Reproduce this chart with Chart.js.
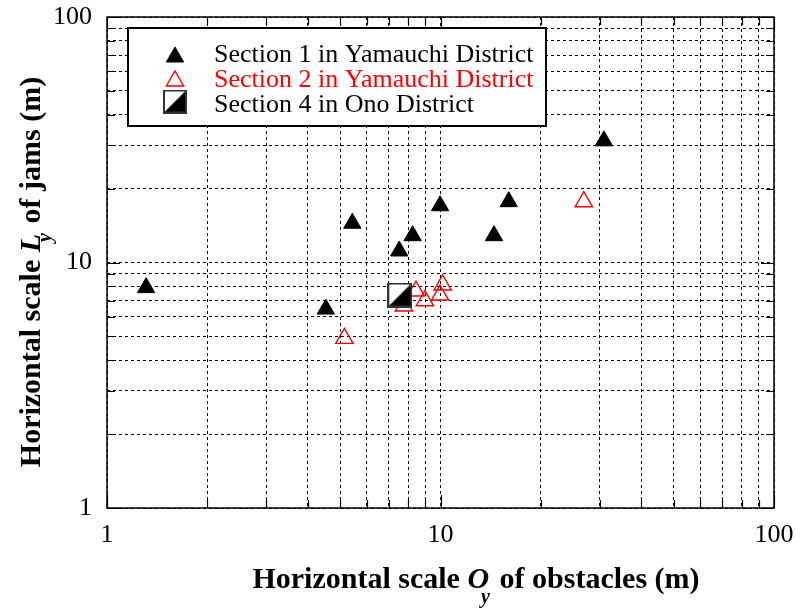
<!DOCTYPE html>
<html>
<head>
<meta charset="utf-8">
<script src="https://cdn.jsdelivr.net/npm/chart.js@4.4.1/dist/chart.umd.min.js"></script>
<style>
  html, body { margin: 0; padding: 0; background: #fff; }
  #wrap { width: 800px; height: 612px; }
</style>
</head>
<body>
<div id="wrap"><canvas id="c" width="800" height="612"></canvas></div>
<script>
// ---- data ----
const seriesLabels = ['Section 1 in Yamauchi District', 'Section 2 in Yamauchi District', 'Section 4 in Ono District'];
const sec1X = [1.31, 4.53, 5.44, 7.52, 8.25, 9.97, 14.47, 16.02, 30.9];
const sec1Y = [7.90, 6.46, 14.45, 11.14, 12.86, 17.03, 12.86, 17.69, 31.3];
const sec2X = [5.15, 7.77, 8.44, 8.98, 9.97, 10.15, 26.9];
const sec2Y = [4.91, 6.65, 7.65, 6.99, 7.37, 8.10, 17.69];
const sec4X = [7.55];
const sec4Y = [7.37];
const majorTicks = [1, 10, 100];
const tickLabels = ['1', '10', '100'];
const xTitleParts = ['Horizontal scale ', 'O', 'y', ' of obstacles (m)'];
const yTitleParts = ['Horizontal scale ', 'L', 'y', ' of jams (m)'];

const SERIF = '"Liberation Serif", "Times New Roman", serif';
const RED = '#ff0000';

function toPoints(xs, ys) { return xs.map((x, i) => ({ x: x, y: ys[i] })); }

function makeHalfSquare(size) {
  const c = document.createElement('canvas');
  c.width = size; c.height = size;
  const g = c.getContext('2d');
  g.fillStyle = '#fff';
  g.fillRect(0, 0, size, size);
  g.fillStyle = '#000';
  g.beginPath();
  g.moveTo(size, 0); g.lineTo(size, size); g.lineTo(0, size); g.closePath();
  g.fill();
  g.strokeStyle = '#333';
  g.lineWidth = 2;
  g.strokeRect(1, 1, size - 2, size - 2);
  return c;
}
const halfSquare = makeHalfSquare(25);
const halfSquareLegend = makeHalfSquare(24);

// all log tick positions 1..9 per decade between the major ticks
function logTicks() {
  const out = [];
  for (let d = 0; d < majorTicks.length - 1; d++) {
    for (let m = 1; m < 10; m++) out.push(majorTicks[d] * m);
  }
  out.push(majorTicks[majorTicks.length - 1]);
  return out;
}
function tickCb(v) {
  const i = majorTicks.indexOf(v);
  return i >= 0 ? tickLabels[i] : '';
}

const framePlugin = {
  id: 'frame',
  beforeDatasetsDraw(chart) {
    const { ctx, chartArea: a, scales } = chart;
    ctx.save();
    ctx.strokeStyle = '#000';
    ctx.lineWidth = 1.2;
    ctx.setLineDash([]);
    scales.x.ticks.forEach(t => {
      const px = Math.round(scales.x.getPixelForValue(t.value)) + 0.5;
      const len = majorTicks.includes(t.value) ? 13 : 8;
      ctx.beginPath();
      ctx.moveTo(px, a.bottom); ctx.lineTo(px, a.bottom - len);
      ctx.moveTo(px, a.top); ctx.lineTo(px, a.top + len);
      ctx.stroke();
    });
    scales.y.ticks.forEach(t => {
      const py = Math.round(scales.y.getPixelForValue(t.value)) + 0.5;
      const len = majorTicks.includes(t.value) ? 13 : 8;
      ctx.beginPath();
      ctx.moveTo(a.left, py); ctx.lineTo(a.left + len, py);
      ctx.moveTo(a.right, py); ctx.lineTo(a.right - len, py);
      ctx.stroke();
    });
    ctx.lineWidth = 1.5;
    ctx.strokeRect(a.left, a.top, a.right - a.left, a.bottom - a.top);
    ctx.restore();
  },
  afterDraw(chart) {
    const ctx = chart.ctx;
    ctx.save();
    // legend box
    const bx = 128, by = 28, bw = 418, bh = 98;
    ctx.fillStyle = '#fff';
    ctx.fillRect(bx, by, bw, bh);
    ctx.strokeStyle = '#000';
    ctx.lineWidth = 2;
    ctx.setLineDash([]);
    ctx.strokeRect(bx, by, bw, bh);
    const rows = [57, 81, 101.5];
    const base = [62, 87, 112];
    const ds = chart.data.datasets;
    // markers
    ctx.fillStyle = '#000'; ctx.strokeStyle = '#000'; ctx.lineWidth = 1;
    ctx.beginPath();
    ctx.moveTo(175, rows[0] - 10); ctx.lineTo(175 + 8.66, rows[0] + 5); ctx.lineTo(175 - 8.66, rows[0] + 5); ctx.closePath();
    ctx.fill(); ctx.stroke();
    ctx.strokeStyle = RED; ctx.lineWidth = 1.4;
    ctx.beginPath();
    ctx.moveTo(175, rows[1] - 10); ctx.lineTo(175 + 8.66, rows[1] + 5); ctx.lineTo(175 - 8.66, rows[1] + 5); ctx.closePath();
    ctx.stroke();
    ctx.drawImage(halfSquareLegend, 175 - 12, rows[2] - 12);
    // texts
    ctx.font = '26px ' + SERIF;
    ctx.textBaseline = 'alphabetic';
    ctx.textAlign = 'left';
    const colors = ['#000', RED, '#000'];
    ds.forEach((d, i) => {
      ctx.fillStyle = colors[i];
      ctx.fillText(d.label, 214, base[i]);
    });

    // axis titles with italic symbol and subscript
    const fMain = 'bold 30px ' + SERIF;
    const fIt = 'bold italic 30px ' + SERIF;
    const fSub = 'bold italic 20px ' + SERIF;
    function drawTitle(parts, cx, baseY, subOff) {
      ctx.font = fMain; const w1 = ctx.measureText(parts[0]).width;
      ctx.font = fIt; const w2 = ctx.measureText(parts[1]).width;
      ctx.font = fMain; const w4 = ctx.measureText(parts[3]).width;
      const total = w1 + w2 + 3 + w4;
      let x = cx - total / 2;
      ctx.fillStyle = '#000';
      ctx.textAlign = 'left';
      ctx.font = fMain; ctx.fillText(parts[0], x, baseY); x += w1;
      ctx.font = fIt; ctx.fillText(parts[1], x, baseY); x += w2;
      ctx.font = fSub; ctx.fillText(parts[2], x - 8, baseY + subOff);
      x += 3;
      ctx.font = fMain; ctx.fillText(parts[3], x, baseY);
    }
    drawTitle(xTitleParts, 476, 588, 15);
    ctx.save();
    ctx.translate(40, 272);
    ctx.rotate(-Math.PI / 2);
    drawTitle(yTitleParts, 0, 0, 11);
    ctx.restore();
    ctx.restore();
  }
};

const axisCommon = {
  type: 'logarithmic',
  min: 1,
  max: 100,
  afterBuildTicks(scale) { scale.ticks = logTicks().map(v => ({ value: v, major: majorTicks.includes(v) })); },
  grid: { color: '#000', lineWidth: 1, drawTicks: false },
  border: { display: false, dash: [3, 3] },
};

new Chart(document.getElementById('c'), {
  type: 'scatter',
  data: {
    datasets: [
      {
        label: seriesLabels[0],
        data: toPoints(sec1X, sec1Y),
        pointStyle: 'triangle',
        pointRadius: 10,
        backgroundColor: '#000',
        borderColor: '#000',
        borderWidth: 1,
        order: 1
      },
      {
        label: seriesLabels[1],
        data: toPoints(sec2X, sec2Y),
        pointStyle: 'triangle',
        pointRadius: 10,
        backgroundColor: 'rgba(255,255,255,0)',
        borderColor: RED,
        borderWidth: 1.4,
        order: 2
      },
      {
        label: seriesLabels[2],
        data: toPoints(sec4X, sec4Y),
        pointStyle: halfSquare,
        pointRadius: 12,
        order: 0
      }
    ]
  },
  options: {
    responsive: false,
    animation: false,
    layout: { padding: { top: 17, right: 26, left: 0, bottom: 0 } },
    plugins: { legend: { display: false }, tooltip: { enabled: false } },
    scales: {
      x: Object.assign({}, axisCommon, {
        position: 'bottom',
        afterFit(s) { s.height = 104; s.paddingLeft = 0; s.paddingRight = 0; },
        ticks: { autoSkip: false, maxRotation: 0, color: '#000', padding: 12, font: { family: SERIF, size: 26 }, callback: tickCb }
      }),
      y: Object.assign({}, axisCommon, {
        position: 'left',
        afterFit(s) { s.width = 107; s.paddingTop = 0; s.paddingBottom = 0; },
        ticks: { autoSkip: false, color: '#000', padding: 15, font: { family: SERIF, size: 26 }, callback: tickCb }
      })
    }
  },
  plugins: [framePlugin]
});
</script>
</body>
</html>
